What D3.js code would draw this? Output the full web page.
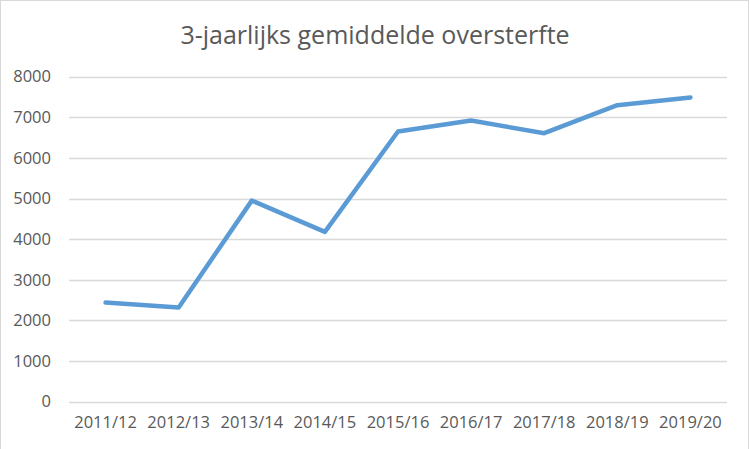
<!DOCTYPE html>
<html>
<head>
<meta charset="utf-8">
<script src="https://cdn.jsdelivr.net/npm/d3@7"></script>
<style>
  html, body { margin: 0; padding: 0; background: #fff; }
  svg { display: block; }
</style>
</head>
<body>
<svg width="750" height="449"></svg>
<script>
// chart data
const seasons = ['2011/12', '2012/13', '2013/14', '2014/15', '2015/16', '2016/17', '2017/18', '2018/19', '2019/20'];
const excessDeaths = [2440, 2320, 4950, 4180, 6650, 6920, 6610, 7300, 7490];
const yTicks = [0, 1000, 2000, 3000, 4000, 5000, 6000, 7000, 8000];
const title = '3-jaarlijks gemiddelde oversterfte';

const svg = d3.select('svg');
const font = '"Open Sans", "Noto Sans", sans-serif';
const textColor = '#595959';

// outer border
svg.append('rect')
  .attr('x', 0.5).attr('y', 0.5)
  .attr('width', 748).attr('height', 460)
  .attr('fill', '#fff')
  .attr('stroke', '#d9d9d9');

// plot area
const plotLeft = 69, plotRight = 727, plotTop = 76.7, plotBottom = 401.7;

const x = d3.scaleBand()
  .domain(seasons)
  .range([plotLeft, plotRight]);

const y = d3.scaleLinear()
  .domain([0, 8000])
  .range([plotBottom, plotTop]);

// gridlines
svg.append('g')
  .selectAll('line')
  .data(yTicks)
  .enter()
  .append('line')
    .attr('x1', plotLeft).attr('x2', plotRight)
    .attr('y1', d => Math.round(y(d)) + 0.5)
    .attr('y2', d => Math.round(y(d)) + 0.5)
    .attr('stroke', '#d9d9d9')
    .attr('stroke-width', 1.3);

// y labels
const yAxis = svg.append('g')
  .attr('transform', `translate(51,0)`)
  .call(d3.axisLeft(y).tickValues(yTicks).tickSize(0).tickPadding(0).tickFormat(d3.format('d')));
yAxis.select('.domain').remove();
yAxis.selectAll('text')
  .attr('fill', textColor)
  .attr('font-size', 16.5)
  .attr('font-family', font);

// x labels
const xAxis = svg.append('g')
  .attr('transform', `translate(0,${plotBottom})`)
  .call(d3.axisBottom(x).tickSize(0).tickPadding(15));
xAxis.select('.domain').remove();
xAxis.selectAll('text')
  .attr('fill', textColor)
  .attr('font-size', 16.5)
  .attr('font-family', font);

// line
const line = d3.line()
  .x((d, i) => x(seasons[i]) + x.bandwidth() / 2)
  .y(d => y(d));

svg.append('path')
  .datum(excessDeaths)
  .attr('d', line)
  .attr('fill', 'none')
  .attr('stroke', '#5b9bd5')
  .attr('stroke-width', 4.5)
  .attr('stroke-linejoin', 'round')
  .attr('stroke-linecap', 'round');

// title
svg.append('text')
  .attr('x', 375)
  .attr('y', 44)
  .attr('text-anchor', 'middle')
  .attr('fill', textColor)
  .attr('font-size', 25)
  .attr('font-family', font)
  .text(title);
</script>
</body>
</html>
